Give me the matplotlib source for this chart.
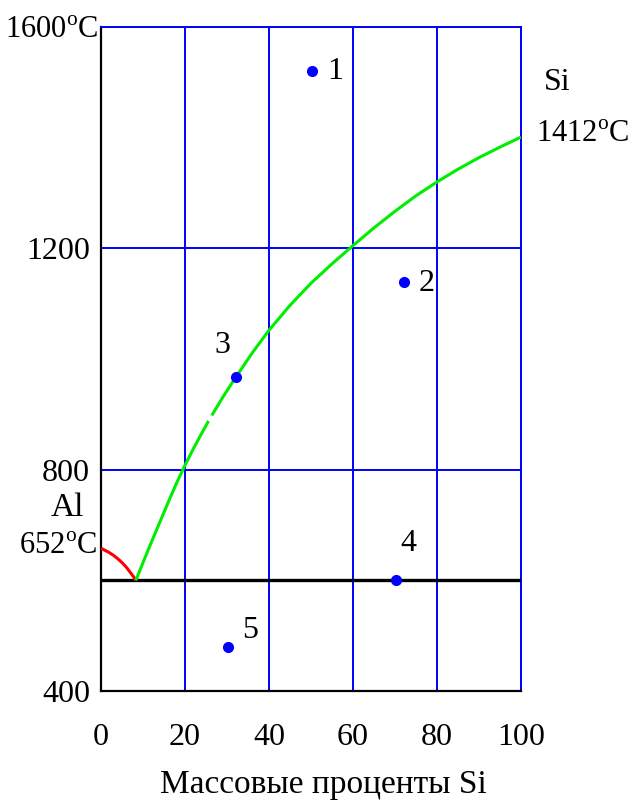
"""Al-Si phase diagram sketch with five marked alloy states."""

import matplotlib

matplotlib.use("Agg")
import matplotlib.pyplot as plt

plt.rcParams["font.family"] = ["Liberation Serif", "DejaVu Serif"]
plt.rcParams["mathtext.fontset"] = "custom"
plt.rcParams["mathtext.rm"] = "Liberation Serif"

# liquidus on the Al side (red) and on the Si side (green, drawn in two pieces)
al_x = [0, 1, 2, 3, 4, 5, 6, 7, 7.7, 8.3]
al_t = [658, 654, 650, 645, 639, 632, 624, 614, 607, 600]
si_lo_x = [8.3, 10, 12, 14, 16, 18, 20, 22, 24, 25.6]
si_lo_t = [600, 632, 669, 705, 741, 776, 808, 838, 866, 888]
si_hi_x = [26.4, 29, 32, 36, 40, 45, 50, 55, 60, 65, 70, 75, 80, 85, 90, 95, 100]
si_hi_t = [898, 931, 966, 1011, 1052, 1097, 1137, 1172, 1205, 1237, 1267, 1295, 1320, 1343, 1364, 1383, 1401]
eutectic_t = 600

# marked states
pt_x = [50.2, 72.1, 32.1, 70.2, 30.2]
pt_t = [1520, 1139, 967, 600, 480]
pt_names = ["1", "2", "3", "4", "5"]
name_x = [55.7, 77.6, 28.8, 73.1, 35.5]
name_t = [1519, 1137, 1025, 666, 510]

x_ticks = [0, 20, 40, 60, 80, 100]
y_ticks = [400, 800, 1200, 1600]
y_labels = ["400", "800", "1200", ""]

W, H = 634, 810
fig = plt.figure(figsize=(W / 100, H / 100), dpi=100)
ax = fig.add_axes([101 / W, 1 - 691 / H, 420 / W, 664 / H])

ax.set_xlim(0, 100)
ax.set_ylim(400, 1600)
ax.set_xticks(x_ticks)
ax.set_yticks(y_ticks)
ax.set_yticklabels(y_labels)
ax.tick_params(length=0, labelsize=23)
ax.tick_params(axis="x", pad=23)
ax.tick_params(axis="y", pad=8)
ax.grid(True, color="#0000ff", lw=1.4)
ax.set_axisbelow(True)
for side in ["top", "right"]:
    ax.spines[side].set_color("#0000ff")
    ax.spines[side].set_linewidth(1.4)
for side in ["left", "bottom"]:
    ax.spines[side].set_color("black")
    ax.spines[side].set_linewidth(1.6)

ax.axhline(eutectic_t, color="black", lw=2.4, zorder=3)
ax.plot(al_x, al_t, color="#ff0000", lw=2.2, zorder=4, solid_capstyle="butt")
ax.plot(si_lo_x, si_lo_t, color="#00ee00", lw=2.2, zorder=4, solid_capstyle="butt")
ax.plot(si_hi_x, si_hi_t, color="#00ee00", lw=2.2, zorder=4, solid_capstyle="butt")
ax.plot(pt_x, pt_t, "o", color="#0000ff", ms=7, zorder=5)
for n, x, t in zip(pt_names, name_x, name_t):
    ax.text(x, t, n, fontsize=23, ha="center", va="center")

ax.set_xlabel("Массовые проценты Si", fontsize=24, va="center")
ax.xaxis.set_label_coords(0.529, -0.141)


def ftext(px, py, s, size=23):
    fig.text(px / W, 1 - py / H, s, fontsize=size, ha="center", va="center")


ftext(52, 30, "1600$^{\\rm o}$C", 22)
ftext(557, 82, "Si")
ftext(583, 135, "1412$^{\\rm o}$C", 22)
ftext(67, 508, "Al", 24)
ftext(58, 546, "652$^{\\rm o}$C", 22)

fig.savefig("out.png", dpi=100)
